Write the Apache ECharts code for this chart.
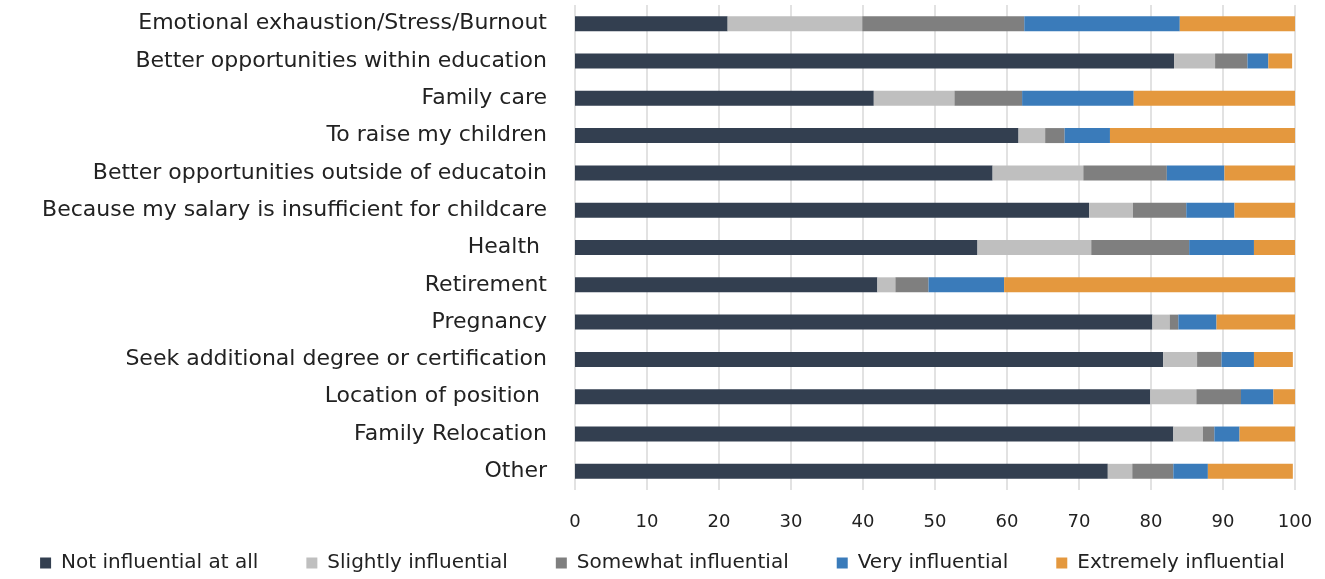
<!DOCTYPE html>
<html><head><meta charset="utf-8">
<script src="https://cdn.jsdelivr.net/npm/echarts@6/dist/echarts.min.js"></script>
<style>html,body{margin:0;padding:0;background:#fff}#c{width:1325px;height:579px}</style>
</head><body><div id="c"></div>
<script>
const categories = [
  "Emotional exhaustion/Stress/Burnout",
  "Better opportunities within education",
  "Family care",
  "To raise my children",
  "Better opportunities outside of educatoin",
  "Because my salary is insufficient for childcare",
  "Health ",
  "Retirement",
  "Pregnancy",
  "Seek additional degree or certification",
  "Location of position ",
  "Family Relocation",
  "Other"
];
const notInfluential      = [21.2, 83.2, 41.5, 61.6, 58.0, 71.4, 55.9, 42.0, 80.2, 81.7, 79.9, 83.1, 74.0];
const slightlyInfluential = [18.7,  5.7, 11.2,  3.7, 12.6,  6.1, 15.8,  2.5,  2.4,  4.7,  6.4,  4.1,  3.4];
const somewhatInfluential = [22.5,  4.5,  9.4,  2.7, 11.6,  7.4, 13.6,  4.6,  1.2,  3.4,  6.2,  1.6,  5.7];
const veryInfluential     = [21.6,  2.9, 15.5,  6.3,  8.0,  6.7,  9.0, 10.5,  5.3,  4.5,  4.5,  3.5,  4.8];
const extremelyInfluential= [16.0,  3.3, 22.4, 25.7,  9.8,  8.4,  5.7, 40.4, 10.9,  5.4,  3.0,  7.7, 11.8];
const xTicks = [0, 10, 20, 30, 40, 50, 60, 70, 80, 90, 100];

const seriesDefs = [
  ["Not influential at all", notInfluential, "#333F50"],
  ["Slightly influential", slightlyInfluential, "#BFBFBF"],
  ["Somewhat influential", somewhatInfluential, "#7F7F7F"],
  ["Very influential", veryInfluential, "#3A7BBA"],
  ["Extremely influential", extremelyInfluential, "#E4983E"]
];
const font = "'DejaVu Sans', sans-serif";
const chart = echarts.init(document.getElementById('c'));
chart.setOption({
  animation: false,
  textStyle: {fontFamily: font},
  grid: {left: 575, right: 30, top: 5, bottom: 89},
  legend: {
    bottom: 1, left: 'center', itemWidth: 11, itemHeight: 11, itemGap: 48,
    icon: 'rect',
    textStyle: {fontSize: 20, color: '#222', fontFamily: font, padding: [0, 0, 0, 5]},
    data: seriesDefs.map(s => s[0])
  },
  xAxis: {
    type: 'value', min: 0, max: 100, interval: 10,
    axisLine: {show: false}, axisTick: {show: false},
    splitLine: {show: true, lineStyle: {color: '#D9D9D9', width: 1.5}},
    axisLabel: {fontSize: 18, color: '#222', margin: 23, fontFamily: font,
      formatter: v => xTicks.includes(v) ? String(v) : ''}
  },
  yAxis: {
    type: 'category', inverse: true, data: categories,
    axisLine: {show: false}, axisTick: {show: false},
    axisLabel: {fontSize: 22, color: '#222', margin: 28, fontFamily: font}
  },
  series: seriesDefs.map(s => ({
    name: s[0], type: 'bar', stack: 'total', data: s[1], barWidth: 15,
    itemStyle: {color: s[2]}
  }))
});
</script></body></html>
